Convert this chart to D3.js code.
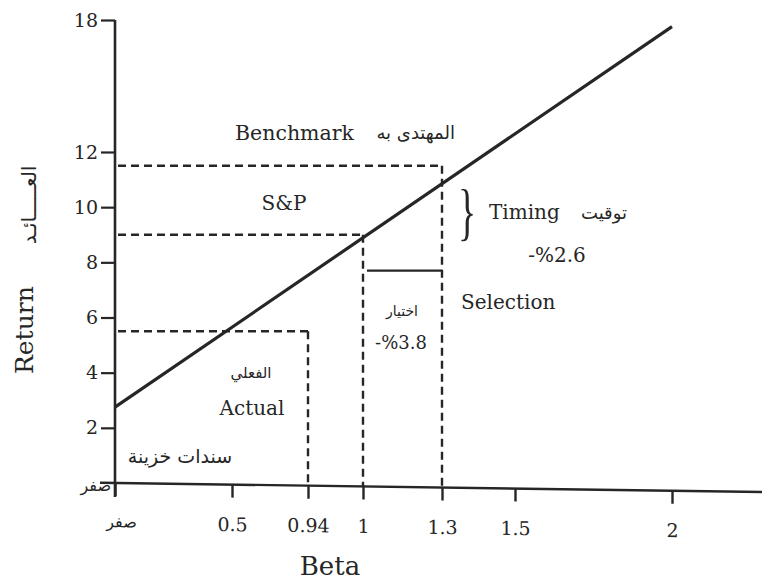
<!DOCTYPE html>
<html>
<head>
<meta charset="utf-8">
<script src="https://cdn.jsdelivr.net/npm/d3@7"></script>
<style>
  html, body { margin: 0; padding: 0; background: #fff; }
  svg { display: block; }
  .serif { font-family: "DejaVu Serif", "Liberation Serif", serif; fill: #262626; }
  .arabic { font-family: "DejaVu Sans", sans-serif; fill: #262626; }
</style>
</head>
<body>
<svg id="chart" width="762" height="581"></svg>
<script>
// Beta axis ticks and their labels
const betaTicks = [0, 0.5, 0.94, 1, 1.3, 1.5, 2];
const betaTickLabels = ["صفر", "0.5", "0.94", "1", "1.3", "1.5", "2"];
// Return axis ticks and their labels
const returnTicks = [0, 2, 4, 6, 8, 10, 12, 18];
const returnTickLabels = ["صفر", "2", "4", "6", "8", "10", "12", "18"];

// Security market line: treasury bills at beta 0 up to the top end
const smlBeta = [0, 2];
const smlReturn = [2.75, 17.7];

// Reference points (beta, return)
const benchmarkPoint = [1.3, 11.5];   // S&P benchmark at the portfolio's target beta
const marketPoint = [1, 9.0];         // S&P at beta 1
const actualPoint = [0.94, 5.5];      // actual portfolio
const timingEffect = -2.6;
const selectionEffect = -3.8;

const svg = d3.select("#chart");
const ink = "#262626";

// Hand-spaced axes: piecewise linear scales
const x = d3.scaleLinear()
  .domain([0, 0.5, 0.94, 1, 1.3, 1.5, 2])
  .range([115, 232, 308, 363, 442, 515, 672]);
const y = d3.scaleLinear()
  .domain([0, 12, 18])
  .range([483, 152, 20]);

// The beta axis runs slightly downhill to the right
const tilt = 9 / 650;
const axisY = px => y(0) + (px - x(0)) * tilt;

// ---- beta axis ----
const gx = svg.append("g")
  .attr("transform", `translate(0,${y(0) - x(0) * tilt}) skewY(${Math.atan(tilt) * 180 / Math.PI})`);
gx.append("line")
  .attr("x1", 100).attr("x2", 762).attr("y1", 0).attr("y2", 0)
  .attr("stroke", ink).attr("stroke-width", 2.4);
const xAxis = d3.axisBottom(x)
  .tickValues(betaTicks)
  .tickFormat((d, i) => betaTickLabels[i])
  .tickSize(13)
  .tickPadding(20);
gx.append("g").call(xAxis)
  .call(g => g.select(".domain").remove())
  .call(g => g.selectAll(".tick line").attr("stroke", ink).attr("stroke-width", 2.4))
  .call(g => g.selectAll(".tick text")
    .attr("class", (d, i) => i === 0 ? "arabic" : "serif")
    .attr("fill", ink)
    .style("font-size", (d, i) => i === 0 ? "16px" : "19px")
    .attr("dx", (d, i) => i === 0 ? 6 : 0));

// ---- return axis ----
svg.append("line")
  .attr("x1", x(0)).attr("x2", x(0))
  .attr("y1", y(18)).attr("y2", y(0) + 14)
  .attr("stroke", ink).attr("stroke-width", 2.6);
const yAxis = d3.axisLeft(y)
  .tickValues(returnTicks)
  .tickFormat((d, i) => returnTickLabels[i])
  .tickSize(14)
  .tickPadding(3);
svg.append("g").attr("transform", `translate(${x(0)},0)`).call(yAxis)
  .call(g => g.select(".domain").remove())
  .call(g => g.selectAll(".tick line").attr("stroke", ink).attr("stroke-width", 2.2))
  .call(g => g.selectAll(".tick").filter(d => d === 0).select("line").remove())
  .call(g => g.selectAll(".tick text")
    .attr("class", d => d === 0 ? "arabic" : "serif")
    .attr("fill", ink)
    .style("font-size", d => d === 0 ? "16px" : "19px")
    .attr("dy", d => d === 0 ? "0.45em" : "0.32em")
    .attr("x", d => d === 0 ? -4 : -17));

// ---- dashed guides ----
const dash = "8,5";
function hGuide(pt) {
  svg.append("line")
    .attr("x1", x(0) + 3).attr("x2", x(pt[0]))
    .attr("y1", y(pt[1])).attr("y2", y(pt[1]))
    .attr("stroke", ink).attr("stroke-width", 2.4).attr("stroke-dasharray", dash);
}
function vGuide(pt) {
  svg.append("line")
    .attr("x1", x(pt[0])).attr("x2", x(pt[0]))
    .attr("y1", y(pt[1])).attr("y2", axisY(x(pt[0])))
    .attr("stroke", ink).attr("stroke-width", 2.4).attr("stroke-dasharray", dash);
}
[benchmarkPoint, marketPoint, actualPoint].forEach(p => { hGuide(p); vGuide(p); });

// ---- security market line ----
const sml = smlBeta.map((b, i) => [b, smlReturn[i]]);
svg.append("path")
  .datum(sml)
  .attr("d", d3.line().x(d => x(d[0])).y(d => y(d[1])))
  .attr("fill", "none").attr("stroke", ink).attr("stroke-width", 3.2);

// ---- selection bar: benchmark return less the selection effect ----
const selY = y(benchmarkPoint[1] + selectionEffect);
svg.append("line")
  .attr("x1", x(marketPoint[0]) + 4).attr("x2", x(benchmarkPoint[0]))
  .attr("y1", selY).attr("y2", selY)
  .attr("stroke", ink).attr("stroke-width", 2.4);

// ---- timing brace ----
svg.append("text")
  .attr("class", "serif")
  .attr("transform", `translate(${x(benchmarkPoint[0]) + 16},233) scale(0.6,1)`)
  .style("font-family", "Liberation Serif")
  .style("font-size", "63px")
  .text("}");

// ---- labels ----
function label(txt, px, py, cls, size, anchor) {
  return svg.append("text")
    .attr("class", cls)
    .attr("x", px).attr("y", py)
    .attr("text-anchor", anchor || "start")
    .style("font-size", size + "px")
    .text(txt);
}
label("Benchmark", 235, 140, "serif", 20.5);
label("المهتدى به", 455, 139, "arabic", 18, "end");
label("S&P", 284, 210, "serif", 20, "middle");
label("Timing", 489, 219, "serif", 20);
label("توقيت", 627, 219, "arabic", 18, "end");
label("-%2.6", 557, 262, "serif", 20, "middle");
label("Selection", 461, 309, "serif", 20);
label("اختيار", 402, 316, "arabic", 14, "middle");
label("-%3.8", 401, 349, "serif", 18, "middle");
label("الفعلي", 251, 378, "arabic", 15, "middle");
label("Actual", 252, 415, "serif", 20, "middle");
label("سندات خزينة", 180, 463, "arabic", 19, "middle");
label("Beta", 330, 575, "serif", 26, "middle");

// rotated axis title
svg.append("text")
  .attr("class", "serif")
  .attr("transform", "translate(33,374) rotate(-90)")
  .style("font-size", "25px")
  .text("Return");
svg.append("text")
  .attr("class", "arabic")
  .attr("transform", "translate(36,205) rotate(-90)")
  .attr("text-anchor", "middle")
  .style("font-size", "20px")
  .text("العـــــائـد");
</script>
</body>
</html>
